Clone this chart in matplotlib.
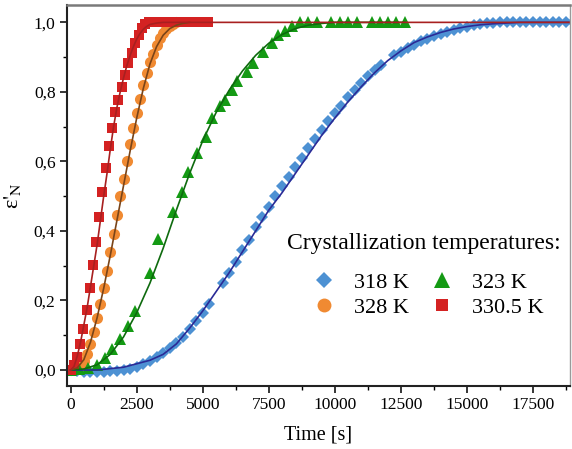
import numpy as np
import matplotlib
matplotlib.use('Agg')
import matplotlib.pyplot as plt
from matplotlib.ticker import MultipleLocator

# Fuentes
plt.rcParams['font.family'] = ['Liberation Serif', 'DejaVu Serif']
plt.rcParams['mathtext.fontset'] = 'stix'

# ---- Datos ----
# 318 K (rombos azules), paso ~250 s
t_318 = [0, 250, 500, 750, 1000, 1250, 1500, 1750, 2000, 2250, 2500, 2750, 3000, 3250, 3500,
         3750, 4000, 4250, 4500, 4750, 5000, 5250, 5750, 6000, 6250, 6500, 6750, 7000,
         7250, 7500, 7750, 8000, 8250, 8500, 8750, 9000, 9250, 9500, 9750, 10000, 10250,
         10500, 10750, 11000, 11250, 11500, 11750, 12250, 12500, 12750, 13000, 13250,
         13500, 13750, 14000, 14250, 14500, 14750, 15000, 15250, 15500, 15750, 16000,
         16250, 16500, 16750, 17000, 17250, 17500, 17750, 18000, 18250, 18500, 18750, 19000]
e_318 = [0.0, -0.003, -0.005, -0.006, -0.006, -0.005, -0.004, -0.002, 0.0, 0.004, 0.010,
         0.017, 0.026, 0.036, 0.048, 0.062, 0.078, 0.096, 0.117, 0.140, 0.165, 0.190, 0.250,
         0.280, 0.310, 0.345, 0.375, 0.410, 0.440, 0.470, 0.500, 0.530, 0.555, 0.585, 0.610,
         0.640, 0.665, 0.690, 0.715, 0.740, 0.760, 0.785, 0.805, 0.825, 0.845, 0.862, 0.878,
         0.905, 0.915, 0.925, 0.935, 0.945, 0.953, 0.960, 0.967, 0.973, 0.978, 0.983, 0.988,
         0.992, 0.995, 0.997, 0.999, 1.0, 1.0, 1.0, 1.0, 1.0, 1.0, 1.0, 1.0, 1.0, 1.0, 1.0, 1.0]
fit_t_318 = [0, 1000, 2000, 3000, 3500, 4000, 4500, 5000, 5500, 6000, 6500, 7000, 7500, 8000,
             8500, 9000, 9500, 10000, 10500, 11000, 11500, 12000, 12500, 13000, 13500, 14000,
             14500, 15000, 15500, 16000, 16500, 17000, 19000]
fit_e_318 = [0.0, 0.0, 0.008, 0.028, 0.045, 0.075, 0.120, 0.170, 0.225, 0.280, 0.340, 0.400,
             0.460, 0.510, 0.565, 0.620, 0.675, 0.725, 0.772, 0.815, 0.855, 0.890, 0.918,
             0.942, 0.958, 0.971, 0.981, 0.988, 0.993, 0.996, 0.998, 1.0, 1.0]

# 323 K (triangulos verdes)
t_323 = [0, 330, 660, 990, 1300, 1550, 1870, 2180, 2440, 3000, 3300, 3880, 4200, 4450, 4770,
         5120, 5340, 5650, 5840, 6090, 6280, 6660, 6910, 7290, 7610, 7860, 8100, 8380, 8680,
         8990, 9310, 9870, 10190, 10500, 10820, 11390, 11700, 12020, 12330, 12650]
e_323 = [0.0, 0.002, 0.006, 0.014, 0.034, 0.060, 0.088, 0.127, 0.170, 0.278, 0.378, 0.454,
         0.513, 0.571, 0.624, 0.671, 0.724, 0.758, 0.777, 0.806, 0.830, 0.858, 0.883, 0.916,
         0.940, 0.964, 0.975, 0.990, 1.0, 1.0, 1.0, 1.0, 1.0, 1.0, 1.0, 1.0, 1.0, 1.0, 1.0, 1.0]
fit_t_323 = [0, 500, 1000, 1500, 2000, 2500, 3000, 3500, 4000, 4500, 5000, 5500, 6000, 6500,
             7000, 7500, 8000, 8500, 9000, 9500, 10000, 12650]
fit_e_323 = [0.0, 0.003, 0.015, 0.045, 0.095, 0.165, 0.250, 0.350, 0.460, 0.565, 0.660, 0.740,
             0.805, 0.860, 0.905, 0.940, 0.965, 0.982, 0.992, 0.997, 1.0, 1.0]

# 328 K (circulos naranjas), paso ~125 s
t_328 = [0, 125, 250, 375, 500, 625, 750, 875, 1000, 1125, 1250, 1375, 1500, 1625, 1750, 1875,
         2000, 2125, 2250, 2375, 2500, 2625, 2750, 2875, 3000, 3125, 3250, 3375, 3500, 3625,
         3750, 3875, 4000]
e_328 = [0.0, 0.002, 0.005, 0.012, 0.025, 0.045, 0.075, 0.110, 0.150, 0.190, 0.235, 0.285,
         0.340, 0.390, 0.445, 0.500, 0.550, 0.600, 0.650, 0.695, 0.740, 0.780, 0.820, 0.855,
         0.885, 0.910, 0.935, 0.955, 0.970, 0.982, 0.990, 0.996, 1.0]
fit_t_328 = [0, 250, 500, 750, 1000, 1250, 1500, 1750, 2000, 2250, 2500, 2750, 3000, 3250,
             3500, 3750, 4000, 4250, 4500]
fit_e_328 = [0.0, 0.006, 0.030, 0.080, 0.150, 0.235, 0.330, 0.430, 0.530, 0.630, 0.725, 0.810,
             0.880, 0.930, 0.963, 0.982, 0.992, 0.997, 1.0]

# 330.5 K (cuadrados rojos), paso ~125 s
t_3305 = [0, 110, 230, 350, 480, 600, 734, 859, 961, 1074, 1199, 1327, 1452, 1575, 1679, 1805,
          1932, 2057, 2183, 2310, 2440, 2575, 2700, 2825, 2950, 3075, 3200, 3325, 3450, 3575,
          3700, 3825, 3950, 4075, 4200, 4325, 4450, 4575, 4700, 4825, 4950, 5075, 5200]
e_3305 = [0.0, 0.015, 0.038, 0.075, 0.117, 0.173, 0.235, 0.302, 0.369, 0.441, 0.513, 0.582,
          0.645, 0.695, 0.743, 0.777, 0.813, 0.849, 0.883, 0.911, 0.940, 0.964, 0.983, 0.995,
          1.0, 1.0, 1.0, 1.0, 1.0, 1.0, 1.0, 1.0, 1.0, 1.0, 1.0, 1.0, 1.0, 1.0, 1.0, 1.0, 1.0,
          1.0, 1.0]
fit_t_3305 = [0, 125, 250, 375, 500, 625, 750, 875, 1000, 1125, 1250, 1375, 1500, 1625, 1750,
              1875, 2000, 2125, 2250, 2375, 2500, 2625, 2750, 2875, 3000, 3250, 3500, 19000]
fit_e_3305 = [0.0, 0.010, 0.040, 0.080, 0.130, 0.180, 0.240, 0.300, 0.360, 0.430, 0.500,
              0.565, 0.635, 0.700, 0.755, 0.800, 0.840, 0.875, 0.905, 0.930, 0.952, 0.968,
              0.980, 0.988, 0.994, 0.998, 1.0, 1.0]

# Ejes
x_ticks = [0, 2500, 5000, 7500, 10000, 12500, 15000, 17500]
y_ticks = [0.0, 0.2, 0.4, 0.6, 0.8, 1.0]
y_tick_labels = ['0,0', '0,2', '0,4', '0,6', '0,8', '1,0']

fig = plt.figure(figsize=(5.72, 4.49), dpi=100)
ax = fig.add_axes([0.1166, 0.1403, 0.88, 0.8486])

# Puntos
ax.plot(t_318, e_318, 'D', color='#4D91D3', markersize=6.5, markeredgewidth=0, label='318 K')
ax.plot(t_328, e_328, 'o', color='#F08A32', markersize=8, markeredgewidth=0, label='328 K')
ax.plot(t_323, e_323, '^', color='#149A14', markersize=9, markeredgewidth=0, label='323 K')
ax.plot(t_3305, e_3305, 's', color='#D42222', markersize=7, markeredgewidth=0, label='330.5 K')

# Curvas de ajuste
ax.plot(fit_t_318, fit_e_318, '-', color='#2A2A96', lw=1.2)
ax.plot(fit_t_323, fit_e_323, '-', color='#0E6A0E', lw=1.2)
ax.plot(fit_t_328, fit_e_328, '-', color='#7A4418', lw=1.2)
ax.plot(fit_t_3305, fit_e_3305, '-', color='#A82020', lw=1.2)

ax.set_xlim(-150, 18900)
ax.set_ylim(-0.046, 1.05)
ax.set_xticks(x_ticks)
ax.set_yticks(y_ticks)
ax.set_yticklabels(y_tick_labels)
ax.xaxis.set_minor_locator(MultipleLocator(1250))
ax.yaxis.set_minor_locator(MultipleLocator(0.1))
ax.tick_params(axis='both', which='major', direction='out', length=5, width=1.1,
               labelsize=12.5, top=False, right=False, pad=3)
ax.tick_params(axis='both', which='minor', direction='out', length=3, width=1.0,
               top=False, right=False)

for s in ['left', 'bottom']:
    ax.spines[s].set_linewidth(1.5)
    ax.spines[s].set_color('#222222')
ax.spines['top'].set_color('#7a7a7a')
ax.spines['top'].set_linewidth(1.8)
ax.spines['right'].set_color('#9a9a9a')
ax.spines['right'].set_linewidth(1.0)

ax.set_xlabel('Time [s]', fontsize=14.5, labelpad=9)
ax.set_ylabel("ε$'_{\\mathrm{N}}$", fontsize=16, labelpad=8)

# Leyenda: titulo aparte para separar mas de las entradas
ax.text(0.709, 0.375, 'Crystallization temperatures:', transform=ax.transAxes,
        fontsize=17, ha='center', va='center')
leg = ax.legend(ncol=2, frameon=False,
                fontsize=16, markerscale=1.25, handlelength=1.0,
                handletextpad=0.85, columnspacing=1.0, labelspacing=0.2,
                loc='center', bbox_to_anchor=(0.718, 0.239))

fig.savefig('out.png', dpi=100)
